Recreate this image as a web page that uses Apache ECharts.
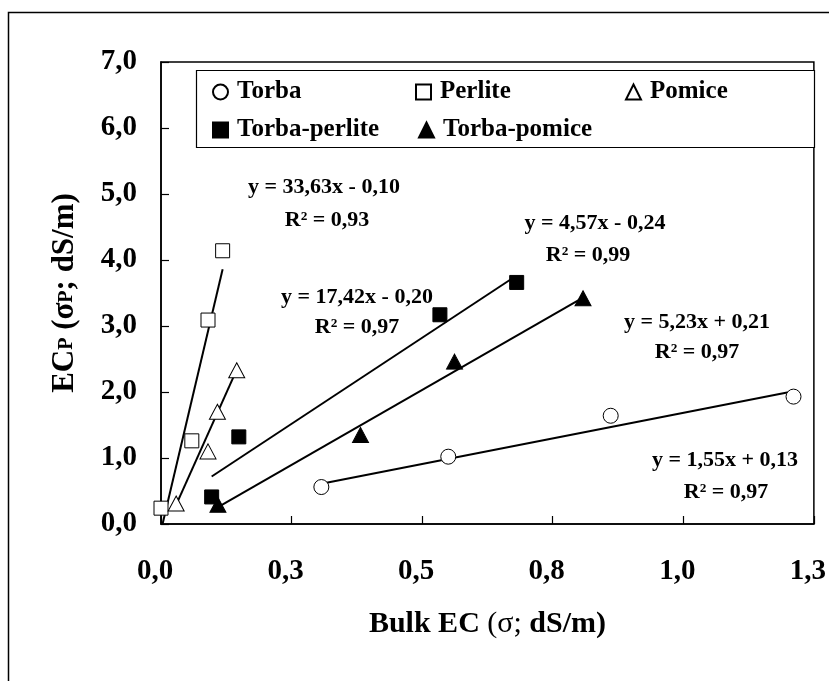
<!DOCTYPE html>
<html>
<head>
<meta charset="utf-8">
<script src="https://cdn.jsdelivr.net/npm/echarts@6/dist/echarts.min.js"></script>
<style>
  html, body { margin: 0; padding: 0; background: #fff; }
  #chart { width: 829px; height: 681px; }
</style>
</head>
<body>
<div id="chart"></div>
<script>
// ---- data ----
var seriesNames = ['Torba', 'Perlite', 'Pomice', 'Torba-perlite', 'Torba-pomice'];

var torbaX = [0.307, 0.550, 0.861, 1.211];
var torbaY = [0.56, 1.02, 1.64, 1.93];
var perliteX = [0.000, 0.059, 0.090, 0.118];
var perliteY = [0.24, 1.26, 3.09, 4.14];
var pomiceX = [0.029, 0.090, 0.108, 0.145];
var pomiceY = [0.31, 1.10, 1.70, 2.33];
var torbaPerliteX = [0.097, 0.149, 0.534, 0.681];
var torbaPerliteY = [0.41, 1.32, 3.17, 3.66];
var torbaPomiceX = [0.109, 0.382, 0.562, 0.808];
var torbaPomiceY = [0.29, 1.35, 2.46, 3.42];

// trendline end points (x, y)
var torbaTrend = [[0.307, 0.61], [1.211, 2.01]];
var perliteTrend = [[0.003, 0.00], [0.118, 3.86]];
var pomiceTrend = [[0.029, 0.29], [0.144, 2.32]];
var torbaPerliteTrend = [[0.097, 0.72], [0.678, 3.75]];
var torbaPomiceTrend = [[0.110, 0.26], [0.808, 3.43]];

var equations = [
  'y = 33,63x - 0,10', 'R² = 0,93',
  'y = 4,57x - 0,24', 'R² = 0,99',
  'y = 17,42x - 0,20', 'R² = 0,97',
  'y = 5,23x + 0,21', 'R² = 0,97',
  'y = 1,55x + 0,13', 'R² = 0,97'
];

var xTickLabels = ['0,0', '0,3', '0,5', '0,8', '1,0', '1,3'];
var yTickLabels = ['0,0', '1,0', '2,0', '3,0', '4,0', '5,0', '6,0', '7,0'];

// ---- chart ----
var FONT = '"Liberation Serif", "Times New Roman", serif';
function pairs(xs, ys) { return xs.map(function (x, i) { return [x, ys[i]]; }); }

var chart = echarts.init(document.getElementById('chart'), null, { renderer: 'canvas' });

function scatter(name, xs, ys, symbol, size, filled) {
  return {
    name: name, type: 'scatter', data: pairs(xs, ys), symbol: symbol, symbolSize: size,
    clip: false, z: 5,
    itemStyle: { color: filled ? '#000' : '#fff', borderColor: '#000', borderWidth: 1, opacity: 1 },
    emphasis: { disabled: true }
  };
}
function trend(name, pts) {
  return {
    name: name, type: 'line', data: pts, showSymbol: false, symbol: 'none', silent: true,
    lineStyle: { color: '#000', width: 2 }, z: 3, clip: true
  };
}

var legendPos = [
  { left: 212, top: 79 }, { left: 415, top: 79 }, { left: 625, top: 79 },
  { left: 212, top: 117 }, { left: 418, top: 117 }
];
var legends = seriesNames.map(function (n, i) {
  return {
    data: [n], left: legendPos[i].left, top: legendPos[i].top, padding: 0,
    itemWidth: 15, itemHeight: 15, selectedMode: false,
    itemStyle: { opacity: 1 },
    textStyle: { fontFamily: FONT, fontWeight: 'bold', fontSize: 25, color: '#000', lineHeight: 26, padding: [0, 0, 0, 4] }
  };
});

var annPos = [
  [324, 187], [327, 220],
  [595, 223], [588, 255],
  [357, 297], [357, 327],
  [697, 322], [697, 352],
  [725, 460], [726, 492]
];
var graphics = [
  { type: 'rect', shape: { x: 8.5, y: 12.5, width: 900, height: 900 }, style: { fill: 'none', stroke: '#000', lineWidth: 1.5 }, z: 0, silent: true },
  { type: 'rect', shape: { x: 196.5, y: 70.5, width: 618, height: 77 }, style: { fill: '#fff', stroke: '#000', lineWidth: 1.2 }, z: 1, silent: true }
];
equations.forEach(function (t, i) {
  graphics.push({
    type: 'text', x: annPos[i][0], y: annPos[i][1], z: 10, silent: true,
    style: { text: t, fill: '#000', font: 'bold 22px ' + FONT, textAlign: 'center', textVerticalAlign: 'middle' }
  });
});

var option = {
  backgroundColor: '#fff',
  animation: false,
  grid: { left: 161, right: 13, top: 62, bottom: 157, show: true, borderColor: '#000', borderWidth: 1.5, backgroundColor: 'transparent' },
  legend: legends,
  xAxis: {
    type: 'value', min: 0, max: 1.25, interval: 0.25,
    axisLine: { show: true, lineStyle: { color: '#000', width: 1.5 } },
    axisTick: { show: true, inside: true, length: 8, lineStyle: { color: '#000', width: 1.2 } },
    splitLine: { show: false },
    axisLabel: {
      margin: 33, color: '#000', fontFamily: FONT, fontWeight: 'bold', fontSize: 29, padding: [0, 12, 0, 0],
      formatter: function (v) { return xTickLabels[Math.round(v / 0.25)]; }
    },
    name: '{b|Bulk EC }{r|(σ;}{b| dS/m)}', nameLocation: 'middle', nameGap: 85,
    nameTextStyle: {
      rich: {
        b: { fontFamily: FONT, fontWeight: 'bold', fontSize: 30, color: '#000' },
        r: { fontFamily: FONT, fontWeight: 'normal', fontSize: 30, color: '#000' }
      }
    }
  },
  yAxis: {
    type: 'value', min: 0, max: 7, interval: 1,
    axisLine: { show: true, lineStyle: { color: '#000', width: 1.5 } },
    axisTick: { show: true, inside: true, length: 8, lineStyle: { color: '#000', width: 1.2 } },
    splitLine: { show: false },
    axisLabel: {
      margin: 24, color: '#000', fontFamily: FONT, fontWeight: 'bold', fontSize: 29,
      formatter: function (v) { return yTickLabels[Math.round(v)]; }
    },
    name: '{b|EC}{s|P}{b| (σ}{s|P}{b|; dS/m)}', nameLocation: 'middle', nameGap: 80, nameRotate: 90,
    nameTextStyle: {
      rich: {
        b: { fontFamily: FONT, fontWeight: 'bold', fontSize: 31, color: '#000', lineHeight: 32 },
        s: { fontFamily: FONT, fontWeight: 'bold', fontSize: 20, color: '#000', lineHeight: 32, verticalAlign: 'bottom', padding: [0, 0, 4, 0] }
      }
    }
  },
  series: [
    trend('torbaTrend', torbaTrend),
    trend('perliteTrend', perliteTrend),
    trend('pomiceTrend', pomiceTrend),
    trend('torbaPerliteTrend', torbaPerliteTrend),
    trend('torbaPomiceTrend', torbaPomiceTrend),
    scatter('Torba', torbaX, torbaY, 'circle', 15, false),
    scatter('Perlite', perliteX, perliteY, 'rect', 14, false),
    scatter('Pomice', pomiceX, pomiceY, 'triangle', [16, 15], false),
    scatter('Torba-perlite', torbaPerliteX, torbaPerliteY, 'rect', 14, true),
    scatter('Torba-pomice', torbaPomiceX, torbaPomiceY, 'triangle', [16, 15], true)
  ],
  graphic: graphics
};
chart.setOption(option);
</script>
</body>
</html>
